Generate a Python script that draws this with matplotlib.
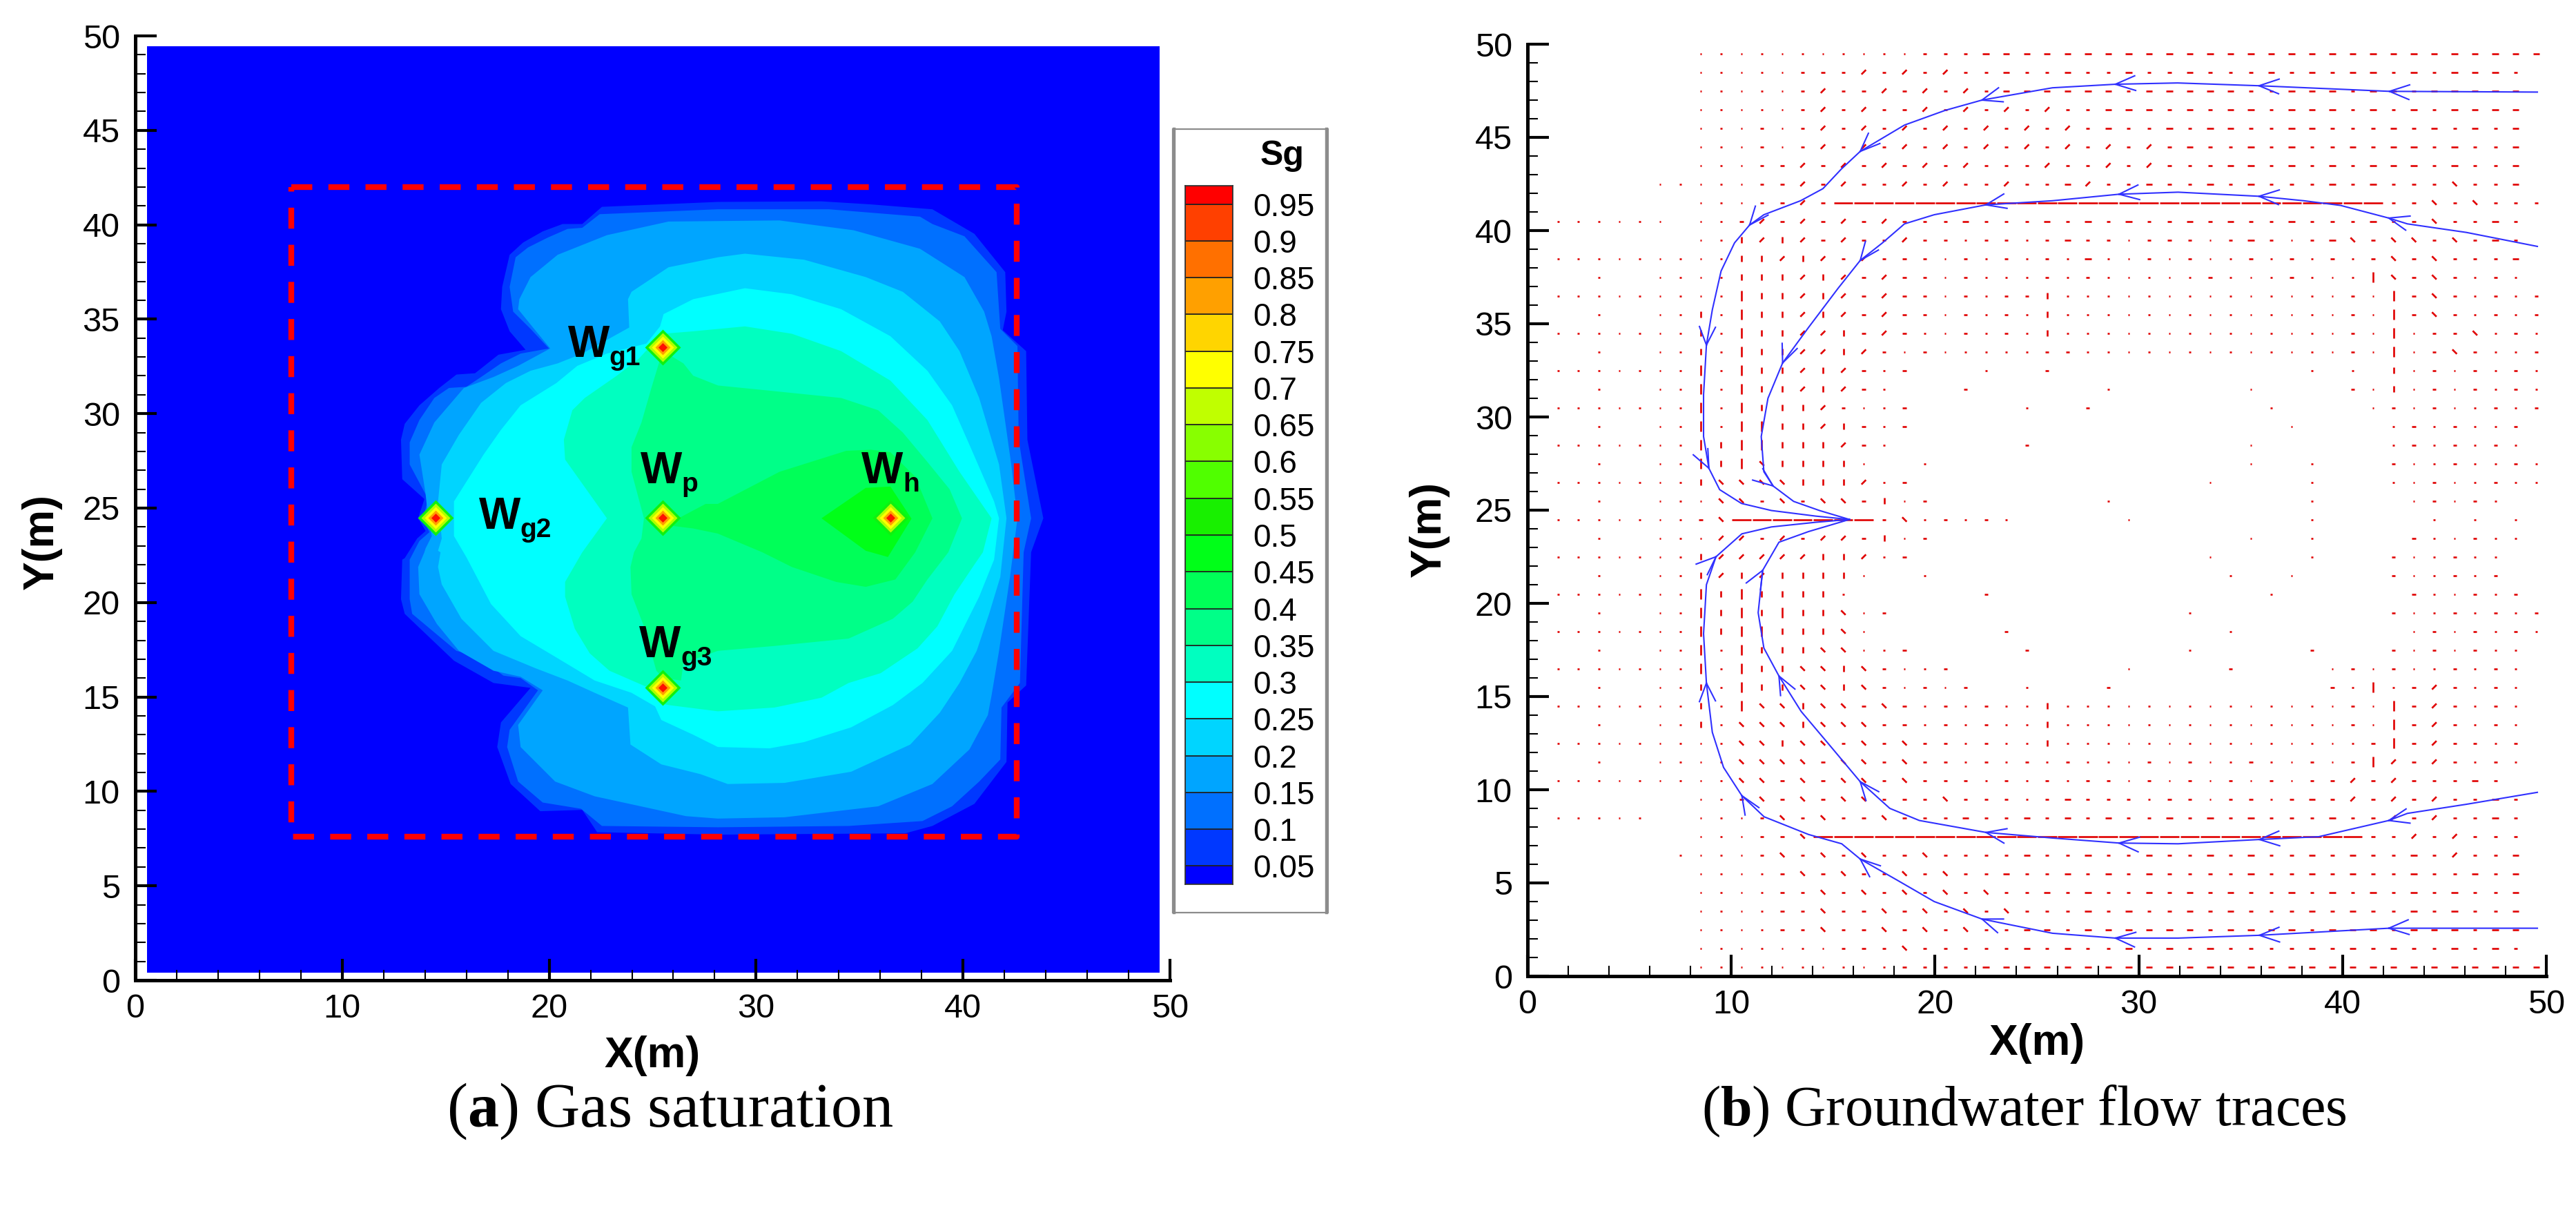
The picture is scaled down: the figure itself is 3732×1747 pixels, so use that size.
import numpy as np
import matplotlib
matplotlib.use('Agg')
import matplotlib.pyplot as plt
from matplotlib.collections import LineCollection
from matplotlib.lines import Line2D
from matplotlib.patches import Rectangle

plt.rcParams['font.family'] = ['Liberation Sans', 'DejaVu Sans']
plt.rcParams['mathtext.fontset'] = 'custom'
plt.rcParams['mathtext.bf'] = 'Liberation Sans:bold'
plt.rcParams['mathtext.it'] = 'Liberation Serif:bold'
plt.rcParams['mathtext.rm'] = 'Liberation Serif'

W, H = 3732, 1747

# legend levels and band colours, low to high
sg_labels = ['0.05', '0.1', '0.15', '0.2', '0.25', '0.3', '0.35', '0.4', '0.45', '0.5',
             '0.55', '0.6', '0.65', '0.7', '0.75', '0.8', '0.85', '0.9', '0.95']
sg_levels = [0.05, 0.1, 0.15, 0.2, 0.25, 0.3, 0.35, 0.4, 0.45, 0.5,
             0.55, 0.6, 0.65, 0.7, 0.75, 0.8, 0.85, 0.9, 0.95]
band_colors = ['#0000ff', '#0038ff', '#0070ff', '#00a5ff', '#00d5ff', '#00ffff', '#00ffc0',
               '#00ff88', '#00ff58', '#00ff18', '#18f000', '#50ff00', '#88ff00', '#c0ff00',
               '#ffff00', '#ffd500', '#ffa000', '#ff7000', '#ff4000', '#ff0000']

# gas saturation contours: outer edge of each band
sg_005 = [(13.67, 24.46), (13.97, 25.48), (12.9, 26.53), (12.84, 28.62), (13.02, 29.46), (13.73, 30.44),
          (14.69, 31.36), (15.52, 32.07), (16.42, 32.14), (17.55, 33.12), (18.86, 33.38), (18.09, 34.36),
          (17.67, 35.53), (17.73, 36.71), (18.09, 38.41), (18.74, 39.06), (19.69, 39.65), (20.65, 40.04),
          (21.6, 40.04), (22.55, 40.95), (28.15, 41.21), (33.16, 41.24), (35.54, 41.08), (38.52, 40.82),
          (40.55, 39.52), (42.04, 37.49), (42.1, 35.4), (41.92, 34.42), (43.05, 33.31), (43.11, 28.62),
          (43.88, 24.46), (43.29, 22.66), (43.05, 15.61), (42.15, 14.7), (42.1, 11.56), (40.55, 9.34),
          (38.52, 8.17), (37.21, 7.78), (28.15, 7.71), (22.32, 7.84), (21.6, 9.02), (19.57, 8.95),
          (18.14, 10.39), (17.49, 12.35), (17.67, 13.65), (19.1, 15.48), (17.31, 15.74), (15.4, 16.92),
          (13.02, 19.4), (12.84, 20.18), (12.9, 22.27), (13.02, 22.35), (13.62, 23.39), (14.03, 23.79)]
sg_010 = [(13.91, 24.46), (14.15, 25.48), (13.26, 27.31), (13.26, 28.48), (13.73, 29.66), (14.45, 30.83),
          (15.16, 31.36), (16.0, 31.42), (16.71, 31.94), (17.67, 32.66), (18.62, 33.18), (19.99, 33.45),
          (19.1, 34.49), (18.26, 35.4), (18.09, 36.71), (18.38, 38.28), (18.98, 38.8), (19.93, 39.32),
          (20.89, 39.78), (21.6, 39.84), (22.44, 40.56), (28.15, 40.82), (33.51, 40.82), (37.92, 40.43),
          (38.52, 40.04), (40.07, 39.39), (41.62, 37.49), (41.8, 34.49), (42.63, 33.58), (42.69, 28.62),
          (43.29, 24.46), (42.93, 22.66), (42.75, 15.74), (41.86, 14.44), (41.8, 11.69), (40.78, 10.52),
          (39.47, 9.21), (38.04, 8.43), (34.47, 8.17), (28.15, 8.1), (22.55, 8.17), (21.54, 9.08),
          (19.69, 9.41), (18.5, 10.52), (17.97, 12.35), (18.09, 13.26), (19.46, 15.35), (18.62, 16.0),
          (17.79, 16.13), (16.48, 17.18), (15.52, 17.44), (13.38, 19.4), (13.26, 20.18), (13.26, 22.27),
          (13.73, 23.26), (14.21, 23.72)]
sg_015 = [(14.15, 24.46), (14.03, 25.74), (13.73, 27.83), (14.45, 29.53), (15.88, 31.36), (17.31, 31.94),
          (18.5, 32.53), (20.05, 33.45), (19.22, 34.56), (18.5, 35.53), (18.56, 36.06), (19.1, 37.23),
          (20.41, 38.41), (22.79, 39.45), (25.77, 40.17), (31.13, 40.23), (34.71, 39.71), (37.92, 38.73),
          (40.07, 37.23), (41.02, 35.4), (41.38, 34.1), (41.74, 31.88), (42.33, 27.31), (42.63, 24.46),
          (42.27, 21.35), (41.74, 17.44), (41.38, 15.09), (41.2, 14.04), (40.31, 12.22), (38.52, 10.39),
          (35.9, 9.21), (31.37, 8.63), (28.15, 8.56), (26.61, 8.69), (22.2, 9.74), (20.29, 10.52),
          (18.62, 12.35), (18.5, 13.52), (19.69, 15.35), (18.62, 16.07), (17.31, 16.39), (15.64, 17.44),
          (14.57, 18.87), (13.73, 20.44), (13.67, 21.88), (13.97, 22.66), (14.03, 22.87), (14.33, 23.52)]
sg_020 = [(14.63, 25.35), (14.81, 27.31), (15.64, 28.88), (16.71, 30.57), (17.91, 31.62), (19.1, 32.27),
          (20.41, 32.66), (21.6, 33.18), (23.87, 34.56), (23.81, 36.06), (23.98, 36.45), (25.77, 37.75),
          (28.16, 38.28), (29.46, 38.47), (32.32, 38.15), (35.3, 37.23), (37.09, 36.45), (38.88, 34.88),
          (39.83, 33.31), (40.78, 30.83), (41.74, 27.31), (42.1, 24.46), (41.8, 21.35), (41.26, 19.4),
          (40.66, 17.44), (39.83, 15.74), (38.88, 14.17), (37.45, 12.48), (34.59, 11.04), (31.37, 10.45),
          (28.63, 10.39), (27.32, 10.91), (25.42, 11.43), (23.93, 12.48), (23.81, 14.44), (22.2, 15.22),
          (20.89, 15.87), (19.34, 16.52), (17.31, 17.44), (15.76, 19.14), (14.81, 20.96), (14.63, 21.88),
          (14.75, 22.66), (14.63, 22.74), (14.81, 23.39)]
sg_025 = [(15.4, 25.35), (16.83, 27.83), (17.67, 29.14), (18.62, 30.44), (20.35, 31.62), (21.36, 32.53),
          (22.79, 33.18), (24.7, 33.71), (25.36, 34.62), (25.53, 35.27), (26.96, 36.06), (29.46, 36.64),
          (31.73, 36.32), (34.11, 35.53), (36.49, 34.1), (38.28, 32.27), (39.47, 30.44), (40.31, 28.35),
          (41.5, 25.35), (41.74, 24.46), (41.5, 22.27), (40.78, 20.31), (39.47, 17.44), (38.04, 15.74),
          (36.61, 14.57), (34.59, 13.39), (32.32, 12.61), (30.65, 12.28), (28.15, 12.35), (26.96, 13.0),
          (25.42, 13.78), (25.12, 14.5), (23.98, 15.22), (22.2, 15.87), (20.41, 17.05), (18.62, 18.22),
          (17.19, 19.92), (16.0, 22.4), (15.4, 23.52)]
sg_030 = [(22.79, 24.46), (20.77, 27.57), (20.71, 28.62), (21.12, 30.18), (21.72, 30.83), (23.27, 32.01),
          (24.34, 32.92), (24.76, 33.42), (25.51, 34.23), (26.96, 34.36), (29.46, 34.62), (31.73, 34.23),
          (34.11, 33.31), (36.49, 31.75), (38.28, 29.66), (39.83, 26.92), (41.38, 24.46), (40.96, 22.66),
          (40.55, 22.01), (39.59, 20.44), (38.76, 18.74), (37.8, 17.57), (36.02, 16.26), (34.47, 15.74),
          (33.16, 14.96), (30.89, 14.44), (28.15, 14.24), (25.77, 14.57), (25.47, 14.63), (24.82, 15.48),
          (22.91, 16.39), (21.96, 17.31), (21.24, 18.61), (20.77, 20.31), (20.77, 21.09), (21.6, 22.66)]
sg_035 = [(24.58, 24.46), (23.98, 26.92), (23.98, 28.22), (24.46, 29.53), (24.94, 31.36), (25.3, 32.66),
          (25.51, 33.31), (26.49, 32.66), (26.96, 32.01), (28.16, 31.49), (30.53, 31.23), (34.11, 30.83),
          (35.9, 30.18), (37.09, 29.0), (38.28, 27.44), (39.35, 26.0), (39.95, 24.46), (39.29, 22.66),
          (38.28, 21.22), (37.57, 20.05), (36.61, 19.14), (34.47, 18.09), (30.89, 17.7), (28.15, 17.44),
          (26.49, 16.79), (26.37, 15.87), (25.51, 16.0), (25.18, 16.39), (24.58, 18.74), (23.98, 20.44),
          (23.93, 21.88), (24.1, 22.66), (24.46, 23.39)]
sg_040 = [(26.25, 24.46), (27.56, 25.22), (28.15, 25.22), (31.13, 26.92), (34.35, 28.03), (35.54, 28.09),
          (36.49, 27.96), (37.69, 26.66), (38.52, 24.46), (37.69, 22.66), (36.73, 21.22), (35.3, 20.83),
          (33.87, 21.09), (31.73, 21.88), (30.3, 22.66), (28.15, 23.65), (26.96, 23.92), (26.01, 24.05)]
sg_045 = [(33.16, 24.46), (35.3, 26.07), (36.49, 26.14), (37.51, 24.44), (36.37, 22.41), (35.3, 22.74)]

well_x = [14.5, 25.5, 25.5, 25.5, 36.5]
well_y = [24.5, 33.5, 24.5, 15.5, 24.5]
well_subs = ['g2', 'g1', 'p', 'g3', 'h']
well_label_x = [16.6, 20.9, 24.4, 24.35, 35.1]
well_label_y = [23.9, 33.0, 26.33, 17.1, 26.33]

box_x = [7.55, 42.6, 42.6, 7.55, 7.55]
box_y = [42.0, 42.0, 7.6, 7.6, 42.0]

# panel (b): streamlines, right end first
trace_a_x = [49.56, 42.3, 35.9, 31.9, 28.85, 25.76, 22.3, 20.5, 18.5, 16.33, 15.4, 14.5, 13.4, 11.6,
             10.9, 10.16, 9.5, 9.07, 8.78, 8.64, 8.64, 8.9, 9.43, 10.5, 11.97, 14.15, 15.8]
trace_a_y = [47.43, 47.47, 47.77, 47.92, 47.85, 47.66, 47.0, 46.45, 45.66, 44.25, 43.3, 42.25, 41.6, 40.85,
             40.3, 39.34, 37.83, 35.75, 33.86, 31.2, 28.95, 27.25, 26.1, 25.36, 24.98, 24.68, 24.5]
trace_b_x = [49.56, 46.08, 43.18, 42.27, 39.9, 38.1, 35.9, 31.93, 29.03, 25.76, 22.5, 19.96, 18.5, 17.42,
             16.33, 15.24, 13.79, 12.52, 11.8, 11.47, 11.6, 12.05, 13.06, 14.33, 15.8]
trace_b_y = [39.15, 39.9, 40.36, 40.67, 41.35, 41.6, 41.84, 42.06, 41.95, 41.6, 41.38, 40.85, 40.36, 39.34,
             38.4, 36.9, 34.8, 32.9, 31.0, 28.95, 27.06, 26.3, 25.47, 24.98, 24.5]
trace_c_x = [49.56, 46.08, 43.18, 42.27, 38.83, 35.92, 31.93, 29.03, 25.76, 22.5, 19.23, 17.78, 16.33,
             14.88, 13.43, 12.34, 11.6, 11.32, 11.54, 12.34, 13.79, 15.8]
trace_c_y = [9.86, 9.22, 8.73, 8.35, 7.48, 7.33, 7.1, 7.14, 7.41, 7.71, 8.35, 9.0, 10.43,
             12.32, 14.2, 16.1, 17.6, 19.5, 21.77, 23.28, 23.85, 24.5]
trace_d_x = [49.56, 42.27, 35.92, 31.93, 28.85, 25.76, 22.31, 19.96, 18.14, 16.33, 15.42, 13.79, 11.61,
             10.52, 9.62, 9.07, 8.78, 8.64, 8.78, 9.25, 10.52, 11.97, 14.15, 15.8]
trace_d_y = [2.57, 2.57, 2.19, 2.04, 2.04, 2.3, 3.06, 4.0, 5.15, 6.28, 7.1, 7.6, 8.55,
             9.68, 11.2, 13.08, 15.72, 18.37, 21.0, 22.5, 23.73, 24.1, 24.35, 24.5]
# which vertex of each trace carries an arrow head
heads_a = [1, 2, 4, 6, 9, 14, 18, 21]
heads_b = [3, 6, 8, 10, 14, 17, 21]
heads_c = [3, 5, 7, 9, 12, 15, 18]
heads_d = [1, 2, 4, 6, 9, 13, 16, 19]

# velocity vectors on the 1 m grid, top row y=49.5, first column x=8.5
# . dot , short - dash = long dash | ! vertical / and b slanted
vec_rows = [
    "...........,,,----------------------------",
    ".....,,,/,/,/,,-,,-,,-,,-,,,-,-,--,-,---,",
    ".....,/,,/,/,/,------,-----,,---,--,-----",
    ".....,/,/,,/,/,/,/,,---,-,--,---,-,-,----",
    "...,.,/,/,/,/,/,/,/,-,,-,--,,--,,,-,-,-,-",
    "...,.,/,/,/,/,/,/,/,/,/,-,,-,-,,-,--,-,,-",
    "...,,/,/,/,/,/,,,/,,/,/,,,--,-,-,---,-,,-",
    "...,,/,/,,/,/,,/,,-/,,-,,-,-,,,-,-,,,b,,-",
    "...,,/,===========================,,b,b,,,",
    "..,/,/,/,/,,,-,,,-,-,-,,-,-,,-,,,-,,b,,-,",
    "..!/!/,/,,/,,.,,.,-,,.,,,.,-,.,-b,bb,b,-,",
    "..!!/!/,/,,,.,.,.,.-..,.,..,.,.,.,b,b,,,-",
    "..!!!/!/,/,,.,...,.,.....,...,...|b,b,.,.",
    "..|!!/!/,/,,.,.,,!..............,.|,b,.,.,",
    "!.|!!/!/,/,,.,.,.!..............,.|,b,.,.,",
    "!.|!!//!,/,..,.,.!..............,.|.,,b.,.",
    "!.|!!//!/,.,.....,,.............,.|.,b,..,",
    "|.|!!/!/,.,   .  ,            . . !.,.,.,.",
    "|.|!!/!/,.   ,      .      .    ,.!.,.,.,.",
    "|.|!!!/,..,     .  ,        .    .,.,..,.,",
    "|.||!!/!,.,                  .    .,.,..,",
    "|!||!!!/,.      ,          .      .,.,.,.",
    "|!|b!!!!.  .               .  .   ,..,..,.",
    "!bbbb!!!/.,              .    .   ..,..,..",
    ".bb,b,bb,!.,        .         .    .,.,.",
    ",b=======,b.,.,.     .        .     . . .",
    ".//,/,//,!.,               .  .    ,..,..",
    "!/////!!/.,              .    .   ,..,..",
    "!/!/!!!!.  .              .  .    ,..,.,",
    "|!|!!!!.      ,             .      ,..,.,",
    "|!|!|!!b.,              .         ,..,.,.,",
    "|!||!!!b.      ,          .        .,.,.,.",
    "|.|!!!bb..,     ,       .     ,   ,.,.,..",
    "|.|!!bb!b,..,        .    ,    .,.,..,.,.",
    "!.|!!bb!b,.,.,  .   ,          ,.|.,/,.,.",
    "!.|bb!bb,b,.,.,..!..............,.|,/,.,.",
    "!.bbb!bbb,,.,.,..!..............,.|,/,.,.",
    "..bb!bb,b,b,,.,..!...............,|,/,,.,",
    "..bbbb,bb,b,,.,.,.,...,.,..,..,.,|/,/,.,.",
    "..bb,b,bb,b,,,.,.,.,,.,.,.,.,.,,/,/,,,-,",
    "..,b,b,bb,,,b,,,.,-,,,.,,.,,.,-,/,/,/,,-,",
    "...,b,b,,b,,,-,,-,-,-,,-,-,-,,,-,,/,/,,-,",
    "...,,b===========================,,/,/,,,",
    "...,b,b,b,,b,,,,-,,-,,-,,-,-,,-,-,,-,/,,-",
    "....,b,b,,b,b,,-,,-,-,-,,,,-,,-,-,,-,,-,-",
    "....,,b,b,b,b,b,,-,-,,-,-,-,,-,-,-,-,-,,-",
    "....,,b,,b,b,b,b,,,-,-,,-,-,,,-,-,,-,-,,-",
    "....,,b,,b,b,b,,--,------,----,---,---,--",
    ".......,,,b,,,,,-,-,,-,-,-,,,,-,-,-,,-,-,",
    "..........,,,,----------------------------",
]
vec_x = list(np.arange(8.5, 50.0, 1.0))
vec_y = list(np.arange(49.5, 0.0, -1.0))

# dots left of x=8.5
far_left_full_x = [1.5, 2.5, 3.5, 4.5, 5.5, 6.5, 7.5]
far_left_short_x = [3.5, 6.5, 7.5]
far_left_full_y = [38.5, 36.5, 34.5, 32.5, 30.5, 28.5, 26.5, 24.5, 22.5, 20.5, 18.5, 16.5, 14.5, 12.5, 10.5]
far_left_short_y = [37.5, 35.5, 33.5, 31.5, 29.5, 27.5, 25.5, 23.5, 21.5, 19.5, 17.5, 15.5, 13.5, 11.5]
far_left_top_x = [1.5, 2.5, 3.5, 4.5, 5.5, 6.5]
far_left_top_y = 40.5
far_left_low_y = 8.5


def px_axes(x0, x1, y_top, y_bottom):
    return fig.add_axes([x0 / W, 1 - y_bottom / H, (x1 - x0) / W, (y_bottom - y_top) / H])


def style_axes(ax, ylab_x, xlab_y, ylab_y_frac):
    ax.set_xlim(0, 50)
    ax.set_ylim(0, 50)
    for s in ['top', 'right']:
        ax.spines[s].set_visible(False)
    for s in ['left', 'bottom']:
        ax.spines[s].set_linewidth(3.6)
    ax.set_xticks(np.arange(0, 51, 10))
    ax.set_yticks(np.arange(0, 51, 5))
    ax.set_xticks(np.arange(0, 51, 2), minor=True)
    ax.set_yticks(np.arange(0, 51, 1), minor=True)
    ax.tick_params(which='major', direction='in', length=22, width=3, labelsize=35)
    ax.tick_params(which='minor', direction='in', length=11, width=1.5)
    ax.tick_params(axis='x', which='major', pad=14)
    ax.tick_params(axis='y', which='major', pad=16)
    fig.text(ylab_x / W, ylab_y_frac, 'Y(m)', rotation=90, fontsize=45, fontweight='bold',
             ha='center', va='center')
    ax.text(0.5, xlab_y, 'X(m)', transform=ax.transAxes, fontsize=45, fontweight='bold',
            ha='center', va='center')
    ax.patch.set_alpha(0)


fig = plt.figure(figsize=(W / 100, H / 100), dpi=100)

# panel (a)
ax1 = px_axes(196, 1695, 52, 1420)
ax1.fill([0.57, 49.5, 49.5, 0.57], [0.4, 0.4, 49.45, 49.45], color=band_colors[0], lw=0)
contours = [sg_005, sg_010, sg_015, sg_020, sg_025, sg_030, sg_035, sg_040, sg_045]
for c, col in zip(contours, band_colors[1:]):
    xs, ys = zip(*c)
    ax1.fill(xs, ys, color=col, lw=0)
ring_sizes = [26, 21, 16, 11, 6.5]
ring_colors = ['#10f010', '#b0ff00', '#ffff00', '#ffa000', '#ff1000']
for r, col in zip(ring_sizes, ring_colors):
    side = r * 0.72 / 0.707
    ax1.scatter(well_x, well_y, marker='D', s=side ** 2, color=col, linewidths=0, zorder=3)
ax1.plot(box_x, box_y, color='#ff0000', lw=6, linestyle=(0, (3.65, 2.8)), dash_capstyle='butt', zorder=4)
for sub, lx, ly in zip(well_subs, well_label_x, well_label_y):
    ax1.text(lx, ly, 'W', fontsize=46, fontweight='bold', va='baseline', ha='left', zorder=5)
    ax1.text(lx + 2.0, ly - 0.45, sub, fontsize=28, fontweight='bold', va='baseline', ha='left', zorder=5)
style_axes(ax1, 60, -0.08, 1 - 785 / H)

# legend box
fig.add_artist(Rectangle((1699 / W, 1 - 1322 / H), 225 / W, 1135 / H, transform=fig.transFigure,
                         facecolor='white', edgecolor='#8c8c8c', lw=1.6))
for lx in [1701, 1922]:
    fig.add_artist(Line2D([lx / W, lx / W], [1 - 1322 / H, 1 - 187 / H], transform=fig.transFigure,
                          color='#8c8c8c', lw=3.2))
cax = px_axes(1717, 1786, 269, 1281)
cax.set_zorder(5)
edges = [0.025] + sg_levels + [0.975]
for lo, hi, col in zip(edges[:-1], edges[1:], band_colors):
    cax.barh((lo + hi) / 2, 1, height=hi - lo, color=col, edgecolor='#202020', linewidth=1.2)
cax.set_xlim(0, 1)
cax.set_ylim(0.025, 0.975)
cax.set_xticks([])
cax.yaxis.tick_right()
cax.set_yticks(sg_levels)
cax.set_yticklabels(sg_labels, fontsize=33)
cax.tick_params(axis='y', length=0, pad=21)
for s in cax.spines.values():
    s.set_linewidth(1.2)
    s.set_color('#303030')
fig.text(1826 / W, 1 - 226 / H, 'Sg', fontsize=36, fontweight='bold', ha='left', va='center', zorder=6)

# panel (b)
ax2 = px_axes(2213, 3689, 64, 1414)
seg_len = {'.': (0.045, 0), ',': (0.09, 0), '-': (0.16, 0), '=': (0.47, 0), '|': (0, 0.26), '!': (0, 0.15),
           '/': (0.11, 0.12), 'b': (0.11, -0.12)}
segs = []
for row, y in zip(vec_rows, vec_y):
    for ch, x in zip(row, vec_x):
        if ch in seg_len:
            dx, dy = seg_len[ch]
            segs.append([(x - dx, y - dy), (x + dx, y + dy)])
for ys, xs in [(far_left_full_y, far_left_full_x), (far_left_short_y, far_left_short_x),
               ([far_left_top_y], far_left_top_x), ([far_left_low_y], far_left_top_x[:-1])]:
    for y in ys:
        for x in xs:
            segs.append([(x - 0.045, y), (x + 0.045, y)])
segs.append([(6.455, 42.5), (6.545, 42.5)])
segs.append([(7.455, 42.5), (7.545, 42.5)])
segs.append([(7.455, 6.5), (7.545, 6.5)])
ax2.add_collection(LineCollection(segs, colors='#e00000', linewidths=1.9, capstyle='butt'))

traces = [(trace_a_x, trace_a_y, heads_a), (trace_b_x, trace_b_y, heads_b),
          (trace_c_x, trace_c_y, heads_c), (trace_d_x, trace_d_y, heads_d)]
for tx, ty, heads in traces:
    ax2.plot(tx, ty, color='#3030ff', lw=1.5, zorder=3)
    for i in heads:
        d = np.array([tx[i + 1] - tx[i], ty[i + 1] - ty[i]])
        d = d / np.hypot(*d)
        for ang in [np.radians(22), -np.radians(22)]:
            rot = np.array([d[0] * np.cos(ang) - d[1] * np.sin(ang), d[0] * np.sin(ang) + d[1] * np.cos(ang)])
            ax2.plot([tx[i], tx[i] - 1.05 * rot[0]], [ty[i], ty[i] - 1.05 * rot[1]],
                     color='#3030ff', lw=1.5, zorder=3)
style_axes(ax2, 2070, -0.072, 1 - 766 / H)

# captions
fig.text(971 / W, 1 - 1610 / H, r'($\mathit{a}$) Gas saturation', family='Liberation Serif',
         fontsize=65, ha='center', va='center')
fig.text(2932 / W, 1 - 1610 / H, r'($\mathit{b}$) Groundwater flow traces', family='Liberation Serif',
         fontsize=59, ha='center', va='center')

fig.savefig('out.png', dpi=100)
